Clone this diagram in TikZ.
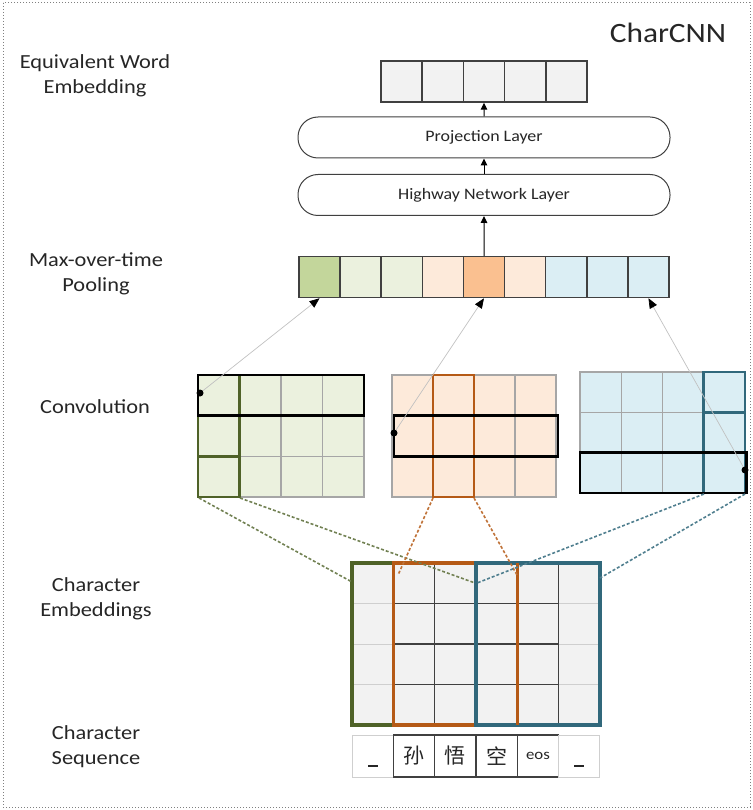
\documentclass[tikz,border=0pt]{standalone}
\usepackage{fontspec}
\setmainfont{Carlito}[FakeStretch=1.12]
\newfontfamily\cjk{Noto Sans CJK SC}
\usetikzlibrary{arrows.meta}
\definecolor{cellgray}{HTML}{F2F2F2}
\definecolor{edgegray}{HTML}{404040}
\definecolor{gridgray}{HTML}{A6A6A6}
\definecolor{lightedge}{HTML}{CFCFCF}
\definecolor{gdark}{HTML}{C3D69B}
\definecolor{glight}{HTML}{EBF1DE}
\definecolor{olight}{HTML}{FDEADA}
\definecolor{odark}{HTML}{FAC090}
\definecolor{blight}{HTML}{DBEEF4}
\definecolor{gline}{HTML}{4F6228}
\definecolor{oline}{HTML}{B55A16}
\definecolor{bline}{HTML}{31687B}
\definecolor{textgray}{HTML}{262626}
\tikzset{
  cellbox/.style={draw=edgegray, line width=1.5pt, minimum width=41.2pt, minimum height=41pt, inner sep=0pt},
  layerbox/.style={draw=edgegray, fill=white, line width=1pt, rounded corners=20pt, minimum width=372pt, minimum height=41pt, inner sep=0pt, text=textgray, font=\fontsize{16}{19}\selectfont},
  lab/.style={align=center, text=textgray, font=\fontsize{20}{25}\selectfont},
  uparrow/.style={-{Triangle[length=7pt,width=6.5pt]}, line width=1pt, draw=black},
  feed/.style={draw=gridgray!70, line width=0.7pt, -{Triangle[length=10pt,width=8pt,color=black]}},
  gridline/.style={draw=gridgray, line width=1.5pt},
  highlight/.style={line width=2.8pt},
  window/.style={draw=black, line width=2.8pt},
  dashline/.style={line width=1.6pt, dash pattern=on 3pt off 2pt},
  seqcell/.style={minimum width=41.33pt, minimum height=42pt, inner sep=0pt, text=textgray},
}
\begin{document}
\begin{tikzpicture}[x=1pt,y=-1pt]
\useasboundingbox (0,0) rectangle (752,810);
% outer frame
\draw[draw=gray, line width=1pt, dotted] (3,3) rectangle (750,807);
\node[text=textgray, font=\fontsize{28}{32}\selectfont] (title) at (668,33) {CharCNN};

% labels
\node[lab] (l1) at (95,76) {Equivalent Word\\Embedding};
\node[lab] (l2) at (96,274) {Max-over-time\\Pooling};
\node[lab] (l3) at (95,407) {Convolution};
\node[lab] (l4) at (96,599) {Character\\Embeddings};
\node[lab] (l5) at (96,747) {Character\\Sequence};

% word embedding
\foreach \i in {1,...,5}
  \node[cellbox, fill=cellgray] (e\i) at ({381+41.2*(\i-0.5)},81.5) {};

% layers
\node[layerbox] (proj) at (484,137.5) {Projection Layer};
\node[layerbox] (hw) at (484,195) {Highway Network Layer};

% pooling
\foreach \i/\c in {1/gdark,2/glight,3/glight,4/olight,5/odark,6/olight,7/blight,8/blight,9/blight}
  \node[cellbox, minimum width=41.11pt, fill=\c] (p\i) at ({299+41.11*(\i-0.5)},277) {};

\draw[uparrow] (p5.north) -- (hw.south);
\draw[uparrow] (hw.north) -- (proj.south);
\draw[uparrow] (proj.north) -- (e3.south);

% convolution grids
% green
\fill[glight] (198,375) rectangle (364,497);
\foreach \k in {1,2,3} \draw[gridline] ({198+41.5*\k},375) -- ({198+41.5*\k},497);
\foreach \k in {1,2} \draw[gridline] (198,{375+40.67*\k}) -- (364,{375+40.67*\k});
\draw[gridline] (198,375) rectangle (364,497);
\draw[gline, highlight] (198,375) rectangle (239.5,497);
\draw[gline, highlight] (198,456.3) -- (239.5,456.3);
\draw[window] (198,375) rectangle (364,415.7);
\coordinate (gdot) at (200,393);
% orange
\fill[olight] (392,375) rectangle (556,497);
\foreach \k in {1,2,3} \draw[gridline] ({392+41*\k},375) -- ({392+41*\k},497);
\foreach \k in {1,2} \draw[gridline] (392,{375+40.67*\k}) -- (556,{375+40.67*\k});
\draw[gridline] (392,375) rectangle (556,497);
\draw[oline, highlight] (433,375) rectangle (474,497);
\draw[window] (394,415.7) rectangle (558,456.3);
\coordinate (odot) at (394,433);
% blue
\fill[blight] (580,372) rectangle (745,493);
\foreach \k in {1,2,3} \draw[gridline] ({580+41.25*\k},372) -- ({580+41.25*\k},493);
\foreach \k in {1,2} \draw[gridline] (580,{372+40.33*\k}) -- (745,{372+40.33*\k});
\draw[gridline] (580,372) rectangle (745,493);
\draw[bline, highlight] (703.75,372) rectangle (745,493);
\draw[bline, highlight] (703.75,412.3) -- (745,412.3);
\draw[window] (580,452.7) rectangle (746.5,493);
\coordinate (bdot) at (745,470);

% feed arrows to pooling
\draw[feed] (gdot) -- (p1.south);
\draw[feed] (odot) -- (p5.south);
\draw[feed] (bdot) -- (p9.south);
\fill (gdot) circle (3.5pt);
\fill (odot) circle (3.5pt);
\fill (bdot) circle (3.5pt);

% character embeddings
\fill[cellgray] (352,563) rectangle (600,725);
\foreach \j in {1,2,3} {
  \draw[lightedge, line width=1pt] (352,{563+40.5*\j}) -- (393.3,{563+40.5*\j});
  \draw[lightedge, line width=1pt] (558.7,{563+40.5*\j}) -- (600,{563+40.5*\j});
  \draw[edgegray, line width=1.2pt] (393.3,{563+40.5*\j}) -- (558.7,{563+40.5*\j});
}
\foreach \k in {2,3,4,5} \draw[edgegray, line width=1.2pt] ({352+41.33*\k},563) -- ({352+41.33*\k},725);
\draw[gline, line width=3.2pt] (352,563) rectangle (476,725);
\draw[oline, line width=3.2pt] (393.3,563) rectangle (517.3,725);
\draw[bline, line width=3.2pt] (476,563) rectangle (600,725);
\draw[oline, line width=3.2pt] (517.3,563) -- (517.3,725);

% dashed projections
\coordinate (ga) at (352,582);
\coordinate (gb) at (475,583);
\coordinate (oa) at (398,575);
\coordinate (ob) at (517,575);
\coordinate (ba) at (477,583);
\coordinate (bb) at (600,578);
\draw[gline!80, dashline] (199,498) -- (ga);
\draw[gline!80, dashline] (240,498) -- (gb);
\draw[oline!85, dashline] (433,498) -- (oa);
\draw[oline!85, dashline] (474,498) -- (ob);
\draw[bline!85, dashline] (704,494) -- (ba);
\draw[bline!85, dashline] (745,494) -- (bb);

% character sequence
\node[seqcell, draw=lightedge, line width=1pt] (s1) at (372.7,756) {};
\node[seqcell, draw=edgegray, line width=1.2pt, font=\cjk\fontsize{21}{24}\selectfont] (s2) at (414,756) {孙};
\node[seqcell, draw=edgegray, line width=1.2pt, font=\cjk\fontsize{21}{24}\selectfont] (s3) at (455.3,756) {悟};
\node[seqcell, draw=edgegray, line width=1.2pt, font=\cjk\fontsize{21}{24}\selectfont] (s4) at (496.7,756) {空};
\node[seqcell, draw=edgegray, line width=1.2pt, font=\fontsize{15}{17}\selectfont] (s5) at (538,756) {eos};
\node[seqcell, draw=lightedge, line width=1pt] (s6) at (579.3,756) {};
\draw[textgray, line width=1.5pt] (368,766) -- (378,766);
\draw[textgray, line width=1.5pt] (574,766) -- (584,766);
\end{tikzpicture}
\end{document}
